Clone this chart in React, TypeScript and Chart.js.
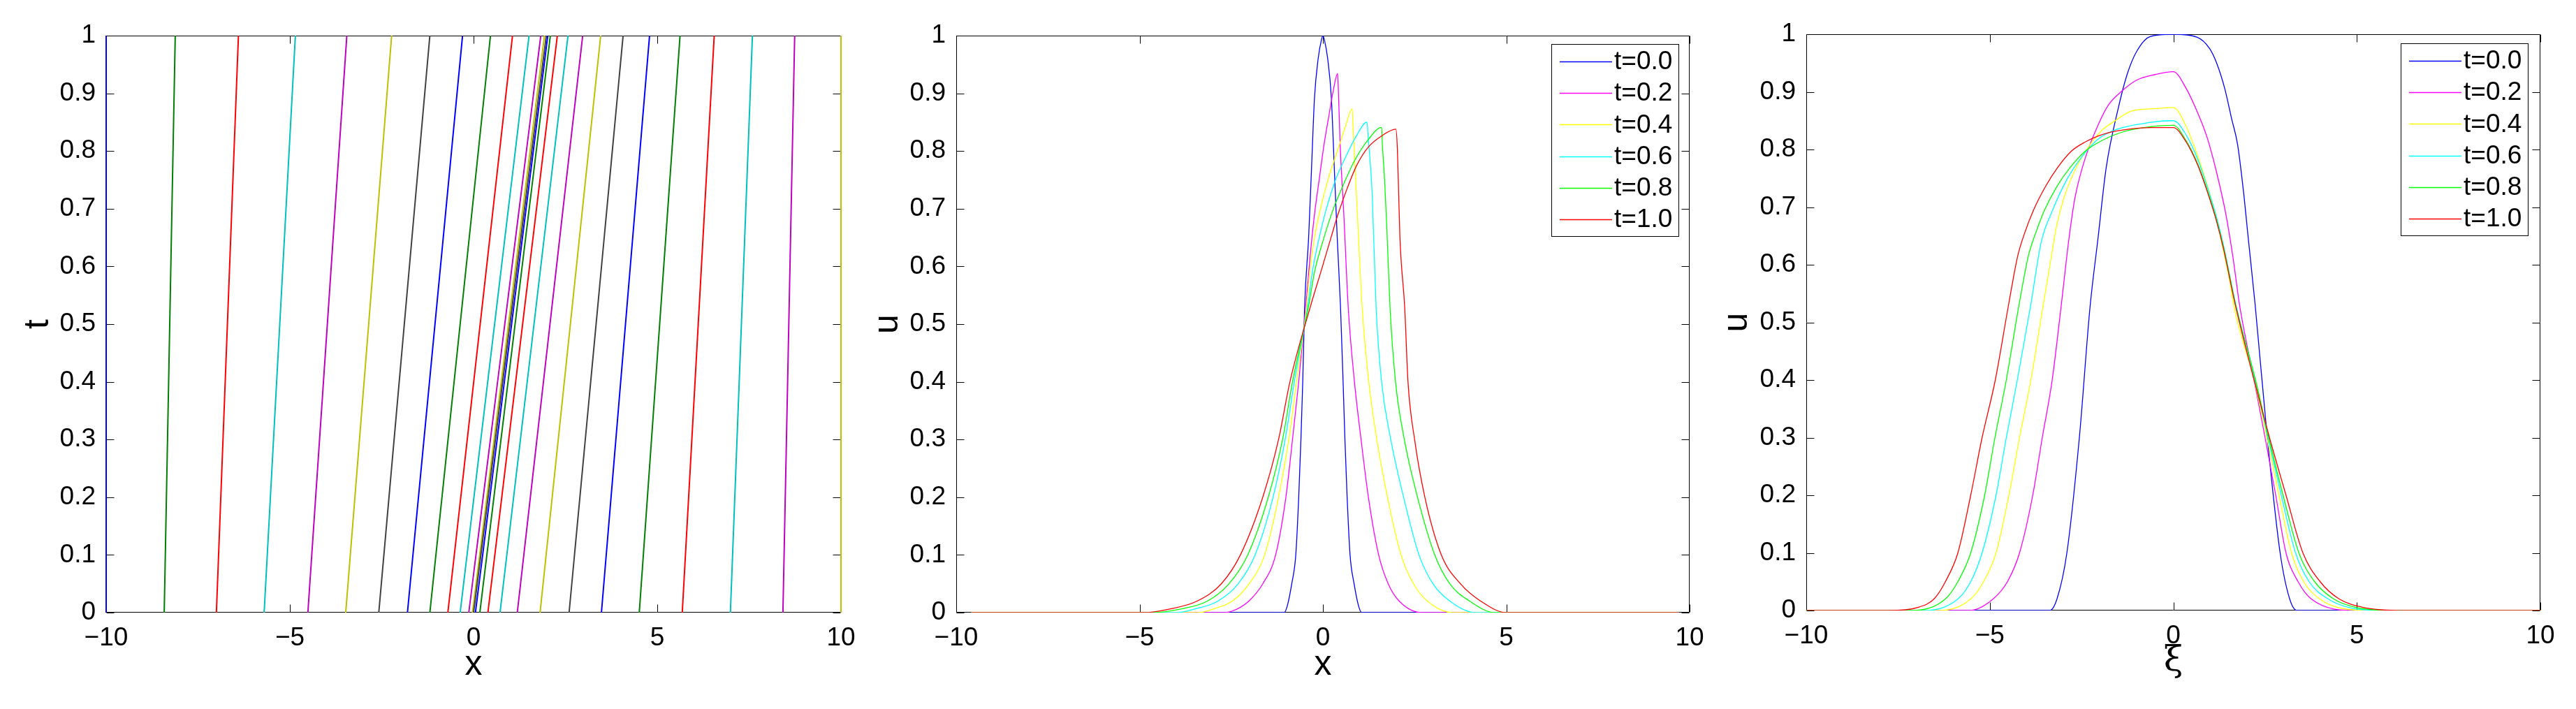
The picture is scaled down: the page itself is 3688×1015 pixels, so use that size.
import React, { useEffect, useRef } from 'react';
import { Chart, registerables } from 'chart.js';

Chart.register(...registerables);

// ---------------- Panel 1: characteristic lines x(t) ----------------
const charTimes = [0, 1];
const charStartX = [
  -10, -8.42, -7.0, -5.70, -4.51, -3.48, -2.58, -1.80, -1.19, -0.70, -0.365, -0.13, -0.03, 0.0,
  0.05, 0.17, 0.39, 0.72, 1.19, 1.81, 2.60, 3.48, 4.51, 5.68, 6.99, 8.42, 10,
];
const charEndX = [
  -10, -8.12, -6.40, -4.85, -3.45, -2.23, -1.19, -0.30, 0.46, 1.06, 1.51, 1.83, 1.93, 1.98,
  2.02, 2.09, 2.28, 2.57, 2.97, 3.46, 4.07, 4.79, 5.62, 6.55, 7.59, 8.74, 10,
];
const charColors = ['#0000FF', '#008000', '#FF0000', '#00BFBF', '#BF00BF', '#BFBF00', '#404040'];

// ---------------- Panel 2: u(x) at several times ----------------
const timeLabels = ['t=0.0', 't=0.2', 't=0.4', 't=0.6', 't=0.8', 't=1.0'];
const timeColors = ['#0000FF', '#FF00FF', '#FFFF00', '#00FFFF', '#00FF00', '#FF0000'];

const xT00 = [-9.6, -1.06, -0.97, -0.85, -0.74, -0.66, -0.6, -0.55, -0.5, -0.39, -0.31, -0.23, -0.13, -0.04, 0, 0.04, 0.13, 0.23, 0.31, 0.39, 0.48, 0.55, 0.6, 0.66, 0.74, 0.85, 0.97, 1.06, 9.7];
const uT00 = [0, 0, 0.012, 0.05, 0.1, 0.2, 0.3, 0.4, 0.529, 0.65, 0.771, 0.892, 0.96, 0.993, 1, 0.993, 0.96, 0.892, 0.771, 0.65, 0.529, 0.4, 0.3, 0.2, 0.1, 0.05, 0.012, 0, 0];

const xT02 = [-9.6, -2.7, -2.35, -2.02, -1.64, -1.29, -1.01, -0.83, -0.66, -0.47, -0.36, -0.23, -0.1, 0.03, 0.16, 0.28, 0.40, 0.42, 0.47, 0.57, 0.69, 0.86, 1.04, 1.24, 1.52, 1.78, 2.08, 2.7, 9.7];
const uT02 = [0, 0, 0.006, 0.02, 0.05, 0.1, 0.2, 0.3, 0.4, 0.529, 0.61, 0.69, 0.751, 0.811, 0.86, 0.904, 0.934, 0.908, 0.811, 0.69, 0.529, 0.4, 0.3, 0.2, 0.1, 0.05, 0.02, 0, 0];

const xT04 = [-9.6, -3.4, -2.95, -2.47, -2.01, -1.59, -1.21, -0.93, -0.72, -0.45, -0.36, -0.23, -0.04, 0.16, 0.41, 0.6, 0.8, 0.82, 0.91, 1.07, 1.25, 1.47, 1.76, 2.13, 2.47, 2.85, 3.54, 9.7];
const uT04 = [0, 0, 0.007, 0.02, 0.05, 0.1, 0.2, 0.3, 0.4, 0.529, 0.59, 0.65, 0.707, 0.755, 0.803, 0.84, 0.873, 0.844, 0.73, 0.529, 0.4, 0.3, 0.2, 0.1, 0.05, 0.02, 0, 0];

const xT06 = [-9.6, -4.0, -3.45, -2.86, -2.31, -1.85, -1.36, -1.03, -0.78, -0.42, -0.29, -0.1, 0.09, 0.35, 0.6, 0.92, 1.2, 1.24, 1.34, 1.45, 1.6, 1.85, 2.2, 2.62, 3.0, 3.46, 4.15, 9.7];
const uT06 = [0, 0, 0.007, 0.02, 0.05, 0.1, 0.2, 0.3, 0.4, 0.529, 0.59, 0.65, 0.699, 0.751, 0.787, 0.827, 0.85, 0.819, 0.73, 0.529, 0.4, 0.3, 0.2, 0.1, 0.05, 0.02, 0, 0];

const xT08 = [-9.6, -4.7, -3.9, -3.15, -2.56, -2.05, -1.49, -1.10, -0.83, -0.39, -0.23, 0.03, 0.28, 0.54, 0.86, 1.24, 1.6, 1.62, 1.68, 1.74, 1.83, 1.98, 2.22, 2.58, 3.05, 3.46, 4.0, 4.69, 9.7];
const uT08 = [0, 0, 0.006, 0.02, 0.05, 0.1, 0.2, 0.3, 0.4, 0.531, 0.59, 0.65, 0.699, 0.739, 0.783, 0.82, 0.841, 0.813, 0.752, 0.671, 0.529, 0.4, 0.3, 0.2, 0.1, 0.05, 0.02, 0, 0];

const xT10 = [-9.6, -4.9, -4.2, -3.43, -2.77, -2.25, -1.64, -1.21, -0.9, -0.33, -0.04, 0.22, 0.41, 0.66, 0.92, 1.24, 1.62, 1.99, 2.03, 2.06, 2.10, 2.23, 2.32, 2.5, 2.78, 3.23, 3.75, 4.3, 5.0, 9.7];
const uT10 = [0, 0, 0.006, 0.02, 0.05, 0.1, 0.2, 0.3, 0.4, 0.533, 0.594, 0.65, 0.69, 0.735, 0.775, 0.807, 0.827, 0.838, 0.804, 0.739, 0.65, 0.529, 0.4, 0.3, 0.2, 0.1, 0.05, 0.02, 0, 0];

// ---------------- Panel 3: u(xi) at several times ----------------
const xiT00 = [-10, -3.37, -3.17, -2.9, -2.56, -2.27, -2.05, -1.83, -1.51, -1.26, -1.0, -0.63, 0, 0.64, 0.99, 1.18, 1.40, 1.59, 1.75, 1.91, 2.04, 2.23, 2.56, 2.91, 3.17, 3.37, 10];
const vT00 = [0, 0, 0.02, 0.1, 0.3, 0.526, 0.647, 0.768, 0.869, 0.93, 0.97, 0.996, 1, 0.995, 0.975, 0.95, 0.906, 0.853, 0.809, 0.728, 0.647, 0.53, 0.3, 0.1, 0.02, 0, 0];

const xiT02 = [-10, -5.55, -4.91, -4.52, -4.19, -3.83, -3.57, -3.3, -3.06, -2.84, -2.68, -2.38, -2.06, -1.77, -1.39, -1.01, -0.50, 0, 0.35, 0.6, 0.92, 1.18, 1.43, 1.62, 1.81, 2.2, 2.5, 2.79, 3.07, 3.4, 3.76, 4.98, 10];
const vT02 = [0, 0, 0.02, 0.05, 0.1, 0.2, 0.3, 0.4, 0.526, 0.647, 0.716, 0.789, 0.841, 0.877, 0.902, 0.920, 0.930, 0.935, 0.906, 0.873, 0.821, 0.76, 0.688, 0.615, 0.528, 0.4, 0.3, 0.2, 0.1, 0.05, 0.02, 0, 0];

const xiT04 = [-10, -6.36, -5.52, -5.17, -4.83, -4.48, -4.19, -3.88, -3.55, -3.36, -3.18, -2.98, -2.71, -2.39, -1.95, -1.63, -1.12, -0.48, 0, 0.35, 0.6, 0.86, 1.11, 1.33, 1.55, 1.65, 2.2, 2.55, 2.88, 3.22, 3.55, 3.99, 4.5, 5.44, 10];
const vT04 = [0, 0, 0.02, 0.05, 0.1, 0.2, 0.3, 0.4, 0.528, 0.6, 0.667, 0.716, 0.76, 0.797, 0.833, 0.848, 0.867, 0.871, 0.873, 0.84, 0.8, 0.751, 0.696, 0.635, 0.567, 0.528, 0.4, 0.3, 0.2, 0.1, 0.05, 0.02, 0.005, 0, 0];

const xiT06 = [-10, -6.8, -5.87, -5.52, -5.21, -4.83, -4.55, -4.25, -3.89, -3.6, -3.28, -2.9, -2.52, -2.07, -1.63, -0.62, 0, 0.35, 0.67, 0.92, 1.18, 1.37, 1.69, 2.22, 2.58, 2.94, 3.33, 3.7, 4.22, 4.8, 5.75, 10];
const vT06 = [0, 0, 0.02, 0.05, 0.1, 0.2, 0.3, 0.4, 0.528, 0.639, 0.696, 0.748, 0.785, 0.817, 0.833, 0.847, 0.85, 0.825, 0.782, 0.736, 0.682, 0.633, 0.535, 0.4, 0.3, 0.2, 0.1, 0.05, 0.02, 0.005, 0, 0];

const xiT08 = [-10, -7.13, -6.21, -5.87, -5.52, -5.14, -4.86, -4.55, -4.21, -3.95, -3.75, -3.5, -3.17, -2.82, -2.4, -1.9, -1.4, -0.8, 0, 0.35, 0.67, 0.92, 1.18, 1.37, 1.69, 2.24, 2.6, 2.99, 3.42, 3.85, 4.37, 5.0, 6.06, 10];
const vT08 = [0, 0, 0.02, 0.05, 0.1, 0.2, 0.3, 0.4, 0.528, 0.615, 0.655, 0.696, 0.736, 0.768, 0.797, 0.817, 0.83, 0.838, 0.842, 0.815, 0.774, 0.73, 0.677, 0.629, 0.532, 0.4, 0.3, 0.2, 0.1, 0.05, 0.02, 0.005, 0, 0];

const xiT10 = [-10, -7.75, -6.98, -6.52, -6.21, -5.87, -5.52, -5.21, -4.85, -4.49, -4.24, -4.05, -3.8, -3.48, -3.16, -2.78, -2.40, -2.02, -1.64, -1.13, -0.62, 0, 0.35, 0.67, 0.92, 1.18, 1.37, 1.69, 2.2, 2.62, 3.07, 3.53, 4.0, 4.52, 5.2, 6.29, 10];
const vT10 = [0, 0, 0.005, 0.02, 0.05, 0.1, 0.2, 0.3, 0.4, 0.53, 0.615, 0.655, 0.696, 0.736, 0.768, 0.797, 0.813, 0.824, 0.831, 0.836, 0.838, 0.838, 0.813, 0.772, 0.728, 0.675, 0.627, 0.53, 0.4, 0.3, 0.2, 0.1, 0.05, 0.02, 0.005, 0, 0];

const xTickValues = [-10, -5, 0, 5, 10];

// ---------------------------------------------------------------
const SANS = '"Liberation Sans", Arial, Helvetica, sans-serif';
const TICK_SIZE = 37;

const pairs = (xs: number[], ys: number[]) => xs.map((v, i) => ({ x: v, y: ys[i] }));

function fmtX(v: number) {
  return v < 0 ? '\u2212' + Math.abs(v) : String(v);
}
function fmtY(v: number) {
  return String(Math.round(v * 10) / 10);
}

const frameTicksPlugin = {
  id: 'frameTicks',
  beforeDatasetsDraw(chart: any) {
    const { ctx, chartArea: a, scales } = chart;
    const L = Math.round(a.left) + 0.5;
    const R = Math.round(a.right) - 0.5;
    const T = Math.round(a.top) + 0.5;
    const B = Math.round(a.bottom) - 0.5;
    const tl = 11;
    ctx.save();
    ctx.strokeStyle = '#000';
    ctx.lineWidth = 1;
    ctx.beginPath();
    ctx.rect(L, T, R - L, B - T);
    scales.x.ticks.forEach((t: any) => {
      const px = Math.round(scales.x.getPixelForValue(t.value)) + 0.5;
      ctx.moveTo(px, B);
      ctx.lineTo(px, B - tl);
      ctx.moveTo(px, T);
      ctx.lineTo(px, T + tl);
    });
    scales.y.ticks.forEach((t: any) => {
      const py = Math.round(scales.y.getPixelForValue(t.value)) + 0.5;
      ctx.moveTo(L, py);
      ctx.lineTo(L + tl, py);
      ctx.moveTo(R, py);
      ctx.lineTo(R - tl, py);
    });
    ctx.stroke();
    ctx.restore();
  },
};

const legendPlugin = {
  id: 'boxLegend',
  afterDatasetsDraw(chart: any, _args: any, opts: any) {
    if (!opts || !opts.show) return;
    const { ctx, chartArea: a } = chart;
    const w = 182;
    const h = 275;
    const x0 = Math.round(a.right - opts.right - w);
    const y0 = Math.round(a.top + opts.top);
    ctx.save();
    ctx.fillStyle = '#fff';
    ctx.fillRect(x0, y0, w, h);
    ctx.strokeStyle = '#000';
    ctx.lineWidth = 1;
    ctx.strokeRect(x0 + 0.5, y0 + 0.5, w, h);
    chart.data.datasets.forEach((ds: any, i: number) => {
      const cy = y0 + 25 + i * 45.2;
      ctx.strokeStyle = ds.borderColor;
      ctx.lineWidth = 1.3;
      ctx.beginPath();
      ctx.moveTo(x0 + 12, Math.round(cy) + 0.5);
      ctx.lineTo(x0 + 87, Math.round(cy) + 0.5);
      ctx.stroke();
      ctx.fillStyle = '#000';
      ctx.font = TICK_SIZE + 'px ' + SANS;
      ctx.textBaseline = 'middle';
      ctx.textAlign = 'left';
      ctx.fillText(ds.label, x0 + 90, cy + 1);
    });
    ctx.restore();
  },
};

type PanelProps = {
  left: number;
  width: number;
  padTop: number;
  xH: number;
  yW: number;
  datasets: any[];
  xTitle: string;
  xTitleFont: any;
  xTitlePad: number;
  yTitle: string;
  legend: boolean;
  legendRight?: number;
  legendTop?: number;
};

function Panel(p: PanelProps) {
  const ref = useRef<HTMLCanvasElement>(null);
  useEffect(() => {
    const chart = new Chart(ref.current as HTMLCanvasElement, {
      type: 'line',
      data: { datasets: p.datasets },
      options: {
        animation: false,
        responsive: false,
        devicePixelRatio: 1,
        events: [],
        layout: { padding: { left: 0, right: 30, top: p.padTop, bottom: 0 }, autoPadding: false },
        elements: { point: { radius: 0, hoverRadius: 0 }, line: { tension: 0 } },
        plugins: {
          legend: { display: false },
          tooltip: { enabled: false },
          boxLegend: { show: p.legend, right: p.legendRight ?? 17, top: p.legendTop ?? 12 },
        } as any,
        scales: {
          x: {
            type: 'linear',
            min: -10,
            max: 10,
            grid: { display: false },
            border: { display: false },
            afterBuildTicks: (s: any) => {
              s.ticks = xTickValues.map((v) => ({ value: v }));
            },
            ticks: {
              callback: (v: any) => fmtX(Number(v)),
              font: { family: SANS, size: TICK_SIZE },
              color: '#000',
              padding: 7,
              maxRotation: 0,
              autoSkip: false,
            },
            title: {
              display: true,
              text: p.xTitle,
              font: p.xTitleFont,
              color: '#000',
              padding: { top: 0, bottom: p.xTitlePad },
            },
            afterFit: (s: any) => {
              s.height = p.xH;
            },
          },
          y: {
            type: 'linear',
            min: 0,
            max: 1,
            grid: { display: false },
            border: { display: false },
            ticks: {
              stepSize: 0.1,
              callback: (v: any) => fmtY(Number(v)),
              font: { family: SANS, size: TICK_SIZE },
              color: '#000',
              padding: 7,
              autoSkip: false,
            },
            title: {
              display: true,
              text: p.yTitle,
              font: { family: SANS, size: 50 },
              color: '#000',
              padding: { top: 0, bottom: 0 },
            },
            afterFit: (s: any) => {
              s.width = p.yW;
            },
          },
        } as any,
      },
      plugins: [frameTicksPlugin, legendPlugin],
    });
    return () => chart.destroy();
  }, []);
  return (
    <canvas
      ref={ref}
      width={p.width}
      height={1015}
      style={{ position: 'absolute', left: p.left, top: 0, width: p.width, height: 1015 }}
    />
  );
}

const panel1Datasets = charStartX.map((x0, i) => ({
  label: 'c' + i,
  data: [
    { x: x0, y: charTimes[0] },
    { x: charEndX[i], y: charTimes[1] },
  ],
  borderColor: charColors[i % charColors.length],
  borderWidth: 2,
  pointRadius: 0,
  fill: false,
  clip: false,
  order: charStartX.length - i,
}));

const p2x = [xT00, xT02, xT04, xT06, xT08, xT10];
const p2u = [uT00, uT02, uT04, uT06, uT08, uT10];
const panel2Datasets = timeLabels.map((lab, i) => ({
  label: lab,
  data: pairs(p2x[i], p2u[i]),
  borderColor: timeColors[i],
  borderWidth: 1.3,
  pointRadius: 0,
  fill: false,
  cubicInterpolationMode: 'monotone',
  order: timeLabels.length - i,
}));

const p3x = [xiT00, xiT02, xiT04, xiT06, xiT08, xiT10];
const p3u = [vT00, vT02, vT04, vT06, vT08, vT10];
const panel3Datasets = timeLabels.map((lab, i) => ({
  label: lab,
  data: pairs(p3x[i], p3u[i]),
  borderColor: timeColors[i],
  borderWidth: 1.3,
  pointRadius: 0,
  fill: false,
  cubicInterpolationMode: 'monotone',
  order: timeLabels.length - i,
}));

export default function App() {
  return (
    <div style={{ position: 'absolute', left: 0, top: 0, width: 3688, height: 1015, background: '#fff' }}>
      <Panel
        left={25}
        width={1209}
        padTop={51}
        xH={138}
        yW={127}
        datasets={panel1Datasets}
        xTitle="x"
        xTitleFont={{ family: SANS, size: 50 }}
        xTitlePad={33}
        yTitle="t"
        legend={false}
      />
      <Panel
        left={1241}
        width={1208}
        padTop={51}
        xH={138}
        yW={128}
        datasets={panel2Datasets}
        xTitle="x"
        xTitleFont={{ family: SANS, size: 50 }}
        xTitlePad={33}
        yTitle="u"
        legend={true}
        legendRight={16}
        legendTop={12}
      />
      <Panel
        left={2457}
        width={1210}
        padTop={49}
        xH={141}
        yW={129}
        datasets={panel3Datasets}
        xTitle={'\u03BE'}
        xTitleFont={{ family: '"DejaVu Serif", "Liberation Serif", serif', size: 50 }}
        xTitlePad={38}
        yTitle="u"
        legend={true}
        legendRight={18}
        legendTop={13}
      />
    </div>
  );
}
